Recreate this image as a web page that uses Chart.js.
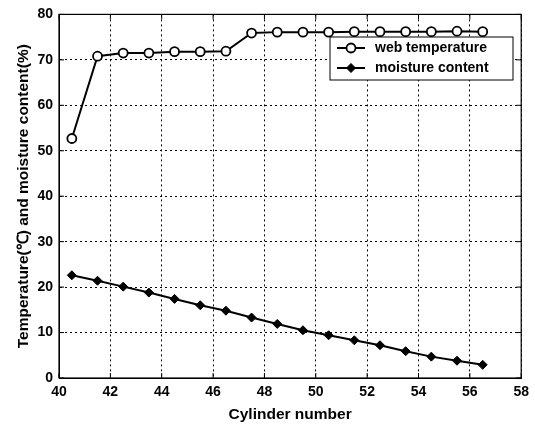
<!DOCTYPE html>
<html>
<head>
<meta charset="utf-8">
<script src="https://cdn.jsdelivr.net/npm/chart.js@4"></script>
<style>
  html, body { margin: 0; padding: 0; background: #fff; }
  #wrap { width: 535px; height: 424px; position: relative; }
</style>
</head>
<body>
<div id="wrap"><canvas id="chart"></canvas></div>
<script>
// cylinder positions (x) and the two series
const cylinders = [40.5, 41.5, 42.5, 43.5, 44.5, 45.5, 46.5, 47.5, 48.5, 49.5, 50.5, 51.5, 52.5, 53.5, 54.5, 55.5, 56.5];
const webTemperature = [52.7, 70.8, 71.5, 71.5, 71.8, 71.8, 71.9, 75.9, 76.1, 76.1, 76.1, 76.2, 76.2, 76.2, 76.2, 76.3, 76.2];
const moistureContent = [22.6, 21.4, 20.1, 18.8, 17.4, 16.0, 14.8, 13.3, 11.9, 10.5, 9.4, 8.3, 7.2, 5.9, 4.7, 3.8, 2.9];
const seriesNames = ["web temperature", "moisture content"];
const xTicks = [40, 42, 44, 46, 48, 50, 52, 54, 56, 58];
const yTicks = [0, 10, 20, 30, 40, 50, 60, 70, 80];

const FONT = "'Liberation Sans', Arial, sans-serif";

function toPoints(values) {
    return values.map((v, i) => ({ x: cylinders[i], y: v }));
}

// box round the plot + legend inside the plot (matlab style)
const boxAndLegend = {
    id: "boxAndLegend",
    afterDraw(chart) {
        const ctx = chart.ctx;
        const a = chart.chartArea;
        ctx.save();
        ctx.strokeStyle = "#000";
        ctx.lineWidth = 1.2;
        ctx.strokeRect(a.left, a.top, a.right - a.left, a.bottom - a.top);

        // little inward ticks
        const xs = chart.scales.x, ys = chart.scales.y;
        ctx.lineWidth = 1;
        ctx.beginPath();
        xTicks.forEach(t => {
            const px = xs.getPixelForValue(t);
            ctx.moveTo(px, a.bottom); ctx.lineTo(px, a.bottom - 5);
            ctx.moveTo(px, a.top); ctx.lineTo(px, a.top + 5);
        });
        yTicks.forEach(t => {
            const py = ys.getPixelForValue(t);
            ctx.moveTo(a.left, py); ctx.lineTo(a.left + 5, py);
            ctx.moveTo(a.right, py); ctx.lineTo(a.right - 5, py);
        });
        ctx.stroke();

        // legend
        const bx = 330, by = 37, bw = 183, bh = 43;
        ctx.fillStyle = "#fff";
        ctx.fillRect(bx, by, bw, bh);
        ctx.lineWidth = 1;
        ctx.strokeRect(bx, by, bw, bh);
        ctx.font = "bold 14px " + FONT;
        ctx.textBaseline = "middle";
        chart.data.datasets.forEach((ds, i) => {
            const ly = by + 11 + i * 20;
            ctx.strokeStyle = "#000";
            ctx.lineWidth = 2;
            ctx.beginPath();
            ctx.moveTo(bx + 7, ly); ctx.lineTo(bx + 35, ly);
            ctx.stroke();
            ctx.fillStyle = "#000";
            ctx.fillText(ds.label, bx + 45, ly);
            ctx.fillStyle = ds.pointBackgroundColor;
            ctx.strokeStyle = "#000";
            ctx.lineWidth = ds.pointBorderWidth;
            ctx.beginPath();
            if (ds.pointStyle === "circle") {
                ctx.arc(bx + 21, ly, ds.pointRadius, 0, Math.PI * 2);
            } else {
                const r = ds.pointRadius;
                ctx.moveTo(bx + 21, ly - r); ctx.lineTo(bx + 21 + r, ly);
                ctx.lineTo(bx + 21, ly + r); ctx.lineTo(bx + 21 - r, ly);
                ctx.closePath();
            }
            ctx.fill();
            ctx.stroke();
        });
        ctx.restore();
    }
};

new Chart(document.getElementById("chart"), {
    type: "line",
    data: {
        datasets: [{
            label: seriesNames[0],
            data: toPoints(webTemperature),
            borderColor: "#000",
            borderWidth: 2,
            pointStyle: "circle",
            pointRadius: 4.5,
            pointBorderWidth: 1.8,
            pointBackgroundColor: "#fff",
            pointBorderColor: "#000",
            tension: 0
        }, {
            label: seriesNames[1],
            data: toPoints(moistureContent),
            borderColor: "#000",
            borderWidth: 2,
            pointStyle: "rectRot",
            pointRadius: 4.5,
            pointBorderWidth: 1,
            pointBackgroundColor: "#000",
            pointBorderColor: "#000",
            tension: 0
        }]
    },
    options: {
        responsive: true,
        maintainAspectRatio: false,
        animation: false,
        layout: { padding: { top: 14, right: 13, left: 0, bottom: 0 } },
        plugins: {
            legend: { display: false },
            tooltip: { enabled: false }
        },
        scales: {
            x: {
                type: "linear",
                min: 40, max: 58,
                afterBuildTicks: s => { s.ticks = xTicks.map(v => ({ value: v })); },
                afterFit: s => { s.height = 46; },
                grid: {
                    color: "#000",
                    lineWidth: 1,
                    tickLength: 0,
                    drawTicks: false
                },
                border: { display: true, color: "#000", dash: [2, 3] },
                ticks: {
                    color: "#000",
                    padding: 6,
                    font: { family: FONT, size: 14, weight: "bold" }
                },
                title: {
                    display: true,
                    text: "Cylinder number",
                    color: "#000",
                    padding: { top: 0, bottom: 0 },
                    font: { family: FONT, size: 15.5, weight: "bold" }
                }
            },
            y: {
                min: 0, max: 80,
                afterBuildTicks: s => { s.ticks = yTicks.map(v => ({ value: v })); },
                afterFit: s => { s.width = 59; },
                grid: {
                    color: "#000",
                    lineWidth: 1,
                    drawTicks: false
                },
                border: { display: true, color: "#000", dash: [2, 3] },
                ticks: {
                    color: "#000",
                    padding: 6,
                    font: { family: FONT, size: 14, weight: "bold" }
                },
                title: {
                    display: true,
                    text: "Temperature(℃) and moisture content(%)",
                    color: "#000",
                    padding: { top: 14, bottom: 0 },
                    font: { family: FONT, size: 15.5, weight: "bold" }
                }
            }
        }
    },
    plugins: [boxAndLegend]
});
</script>
</body>
</html>
